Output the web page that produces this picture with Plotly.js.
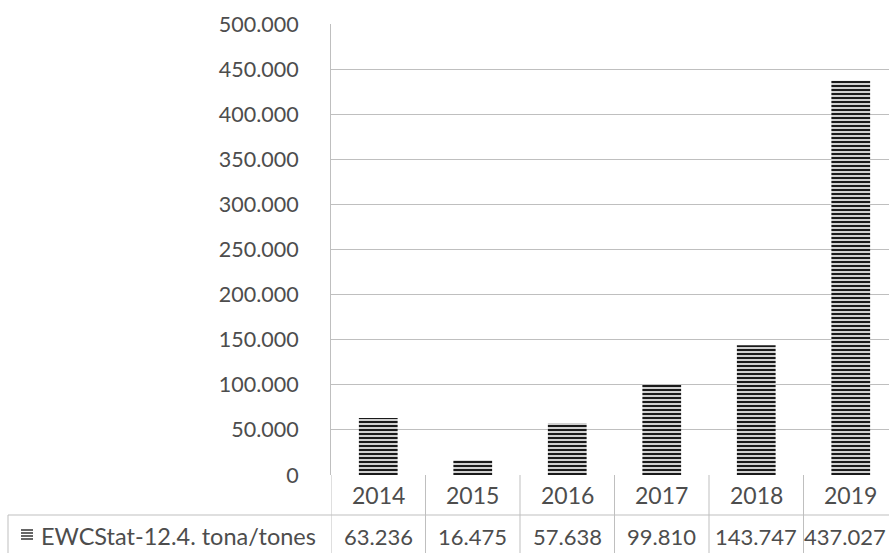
<!DOCTYPE html>
<html>
<head>
<meta charset="utf-8">
<script src="https://cdn.plot.ly/plotly-3.0.1.min.js"></script>
<style>html,body{margin:0;padding:0;background:#fff;}#chart{width:889px;height:553px;}</style>
</head>
<body>
<div id="chart"></div>
<script>
const years = ["2014", "2015", "2016", "2017", "2018", "2019"];
const tonnes = [63236, 16475, 57638, 99810, 143747, 437027];
const seriesName = "EWCStat-12.4. tona/tones";
const yTicks = [0, 50000, 100000, 150000, 200000, 250000, 300000, 350000, 400000, 450000, 500000];

function fmt(n) {
  return String(Math.round(n)).replace(/\B(?=(\d{3})+(?!\d))/g, ".");
}

const W = 889, H = 553;
const plotL = 331, plotT = 24, plotB = 475, plotR = 889;
const plotW = plotR - plotL, plotH = plotB - plotT;
const colW = 94.5;
const px2x = p => (p - plotL) / plotW;
const px2y = p => (plotB - p) / plotH;

const txtColor = "#4d4d4d";
const lineColor = "#bfbfbf";
const font = "Lato, 'Open Sans', sans-serif";

const shapes = [];
for (let i = 0; i <= years.length; i++) {
  shapes.push({type: "line", xref: "x", yref: "paper", x0: i - 0.5, x1: i - 0.5,
    y0: 0, y1: px2y(H + 5), line: {color: lineColor, width: 1}});
}
shapes.push({type: "line", xref: "paper", yref: "paper", x0: px2x(8), x1: 1.02,
  y0: px2y(515), y1: px2y(515), line: {color: lineColor, width: 1}});
shapes.push({type: "line", xref: "paper", yref: "paper", x0: px2x(8), x1: px2x(8),
  y0: px2y(515), y1: px2y(H + 5), line: {color: lineColor, width: 1}});
for (let k = 0; k < 4; k++) {
  const yy = 530 + k * 3;
  shapes.push({type: "line", xref: "paper", yref: "paper", x0: px2x(21), x1: px2x(33),
    y0: px2y(yy), y1: px2y(yy), line: {color: "#333", width: 1.5}});
}

const annotations = [];
years.forEach((yr, i) => {
  annotations.push({xref: "x", yref: "paper", x: i, y: px2y(495), text: yr, showarrow: false,
    xanchor: "center", yanchor: "middle", font: {family: font, size: 23, color: txtColor}});
  const last = i === years.length - 1;
  annotations.push(last ?
    {xref: "paper", yref: "paper", x: 1, y: px2y(536), text: fmt(tonnes[i]), showarrow: false,
     xanchor: "right", yanchor: "middle", xshift: -1, font: {family: font, size: 22, color: txtColor}} :
    {xref: "x", yref: "paper", x: i, y: px2y(536), text: fmt(tonnes[i]), showarrow: false,
     xanchor: "center", yanchor: "middle", font: {family: font, size: 22, color: txtColor}});
});
annotations.push({xref: "paper", yref: "paper", x: px2x(39), y: px2y(536), text: seriesName, showarrow: false,
  xanchor: "left", yanchor: "middle", font: {family: font, size: 23.5, color: txtColor}});

const trace = {
  type: "bar",
  x: years.map((_, i) => i),
  y: tonnes,
  name: seriesName,
  marker: {
    color: "#ffffff",
    line: {width: 0},
    pattern: {shape: "-", fgcolor: "#1a1a1a", bgcolor: "#ffffff", size: 4, solidity: 0.6}
  },
  hoverinfo: "skip"
};

const layout = {
  width: W, height: H,
  margin: {l: plotL, r: W - plotR, t: plotT, b: H - plotB, pad: 0},
  paper_bgcolor: "#ffffff",
  plot_bgcolor: "#ffffff",
  separators: ",.",
  showlegend: false,
  bargap: 0.59,
  xaxis: {
    range: [-0.5, -0.5 + plotW / colW],
    showticklabels: false, showgrid: false, zeroline: false, showline: false, ticks: "",
    fixedrange: true
  },
  yaxis: {
    range: [0, 500000],
    tickvals: yTicks,
    ticktext: yTicks.map(fmt),
    showgrid: true, gridcolor: lineColor, gridwidth: 1,
    zeroline: false,
    showline: true, linecolor: lineColor, linewidth: 1,
    ticks: "", ticklabelstandoff: 27,
    tickfont: {family: font, size: 21.5, color: txtColor},
    fixedrange: true
  },
  shapes: shapes,
  annotations: annotations
};

Plotly.newPlot("chart", [trace], layout, {displayModeBar: false, staticPlot: true});
</script>
</body>
</html>
